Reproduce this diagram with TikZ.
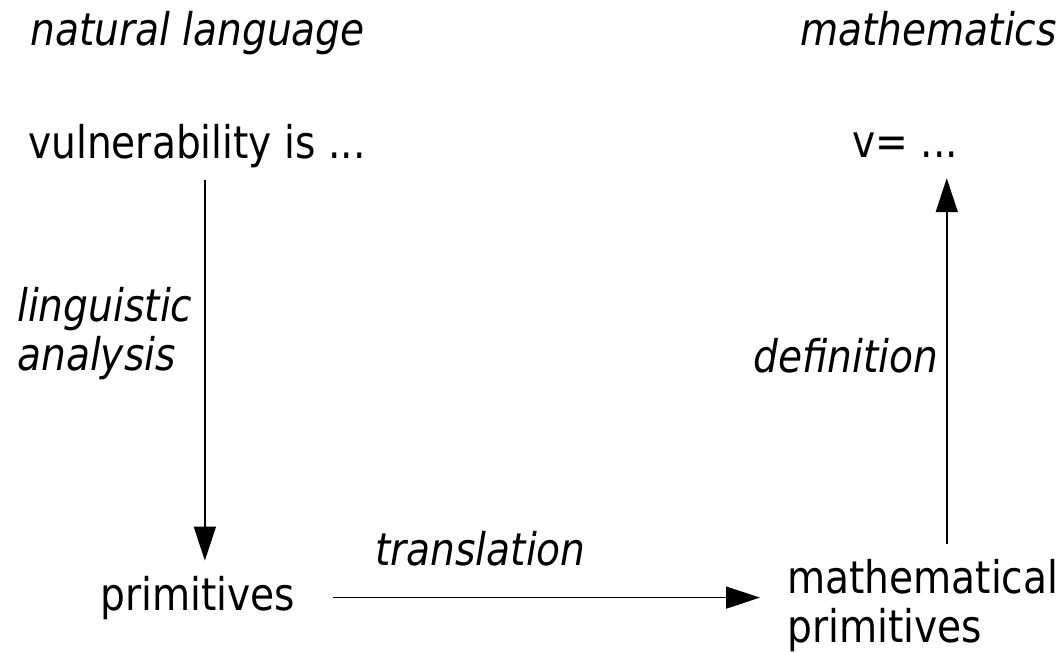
\documentclass[tikz,border=0pt]{standalone}
\usepackage{fontspec}
\setmainfont{DejaVu Sans}[FakeStretch=0.87]
\usetikzlibrary{arrows.meta}

\tikzset{
  word/.style={inner sep=0pt, font=\fontsize{45}{49}\selectfont},
  slant/.style={word, font=\fontsize{45}{49}\selectfont\itshape},
  flow/.style={line width=1.6pt, -{Triangle[length=34pt,width=22pt]}}
}

\begin{document}
\begin{tikzpicture}[x=1pt,y=-1pt]
        \useasboundingbox (0,0) rectangle (1064,651);

        \node[slant, anchor=base west] (natlang) at (30, 45) {natural language};
        \node[slant, anchor=base east] (maths) at (1057, 45) {mathematics};

        \node[word, anchor=base west] (vuln) at (28, 158) {vulnerability is ...};
        \node[word, anchor=base west] (veq) at (852, 157) {v= ...};

        \node[slant, anchor=base west, align=left] (ling) at (17, 370) {linguistic\\analysis};
        \node[slant, anchor=base west] (defn) at (753, 372) {definition};

        \node[word, anchor=base west] (prim) at (100, 610) {primitives};
        \node[slant, anchor=base west] (transl) at (375, 565) {translation};
        \node[word, anchor=base west, align=left] (mprim) at (787, 642) {mathematical\\primitives};

        \coordinate (dn) at ([xshift=8pt,yshift=-12pt]vuln.south);
        \coordinate (up) at ([xshift=24pt,yshift=15pt]mprim.north);

        \draw[flow, shorten >=15pt] (dn) -- (dn |- prim.north);
        \draw[flow] ([xshift=38pt]prim.east) -- ([xshift=-27pt]prim.east -| mprim.west);
        \draw[flow, shorten >=21pt] (up) -- (up |- veq.south);

    \end{tikzpicture}
\end{document}
